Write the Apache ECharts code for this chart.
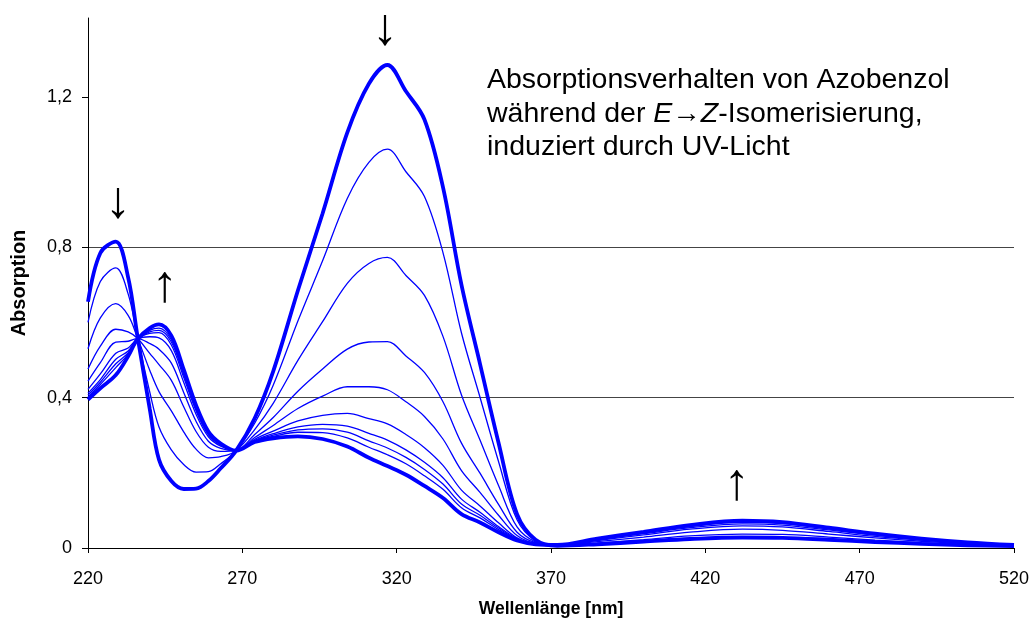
<!DOCTYPE html>
<html><head><meta charset="utf-8">
<script src="https://cdn.jsdelivr.net/npm/echarts@6/dist/echarts.min.js"></script>
<style>html,body{margin:0;padding:0;background:#fff}#c{width:1035px;height:626px}</style>
</head><body><div id="c"></div>
<script>
// Wavelength samples (nm)
const wavelengths = [220,224,229,233,236,240,243,247,251,255,259,263,268,274,280,288,296,304,311,317,323,329,335,341,347,353,359,365,372,385,400,415,432,445,460,475,490,505,520];
// Start spectrum (E-isomer, thick)
const spectrumStart = [0.655,0.785,0.815,0.72,0.565,0.37,0.235,0.178,0.157,0.158,0.178,0.212,0.259,0.345,0.47,0.685,0.89,1.105,1.235,1.285,1.215,1.14,0.96,0.70,0.49,0.28,0.09,0.022,0.006,0.01,0.017,0.024,0.028,0.027,0.022,0.016,0.011,0.007,0.005];
// Intermediate spectra during irradiation
const spectrum1 = [0.60,0.709,0.745,0.676,0.563,0.415,0.322,0.261,0.222,0.202,0.203,0.224,0.259,0.332,0.433,0.604,0.764,0.93,1.026,1.061,1.001,0.935,0.786,0.572,0.401,0.23,0.075,0.019,0.006,0.013,0.022,0.032,0.037,0.036,0.029,0.021,0.014,0.009,0.006];
const spectrum2 = [0.53,0.612,0.65,0.619,0.56,0.473,0.416,0.365,0.309,0.263,0.24,0.243,0.259,0.315,0.385,0.499,0.602,0.704,0.757,0.773,0.725,0.672,0.563,0.407,0.287,0.166,0.056,0.016,0.007,0.017,0.029,0.042,0.05,0.047,0.037,0.027,0.018,0.011,0.006];
const spectrum3 = [0.476,0.537,0.582,0.575,0.558,0.518,0.488,0.446,0.376,0.31,0.268,0.257,0.259,0.302,0.347,0.417,0.476,0.529,0.548,0.549,0.511,0.467,0.389,0.279,0.199,0.116,0.042,0.014,0.008,0.02,0.035,0.05,0.059,0.056,0.044,0.031,0.021,0.013,0.007];
const spectrum4 = [0.444,0.493,0.548,0.55,0.557,0.544,0.529,0.492,0.414,0.337,0.284,0.265,0.259,0.294,0.326,0.371,0.404,0.429,0.429,0.421,0.389,0.35,0.29,0.206,0.148,0.087,0.033,0.012,0.008,0.022,0.038,0.054,0.064,0.061,0.048,0.034,0.022,0.014,0.007];
const spectrum5 = [0.422,0.463,0.518,0.532,0.556,0.562,0.559,0.525,0.441,0.356,0.296,0.271,0.259,0.289,0.311,0.338,0.353,0.358,0.344,0.33,0.302,0.267,0.22,0.154,0.112,0.067,0.027,0.011,0.008,0.023,0.04,0.057,0.068,0.065,0.051,0.036,0.024,0.014,0.008];
const spectrum6 = [0.412,0.448,0.502,0.524,0.556,0.571,0.573,0.54,0.454,0.365,0.301,0.274,0.259,0.286,0.304,0.322,0.329,0.324,0.305,0.287,0.261,0.228,0.187,0.13,0.095,0.057,0.025,0.011,0.008,0.024,0.041,0.059,0.07,0.066,0.052,0.037,0.024,0.014,0.008];
const spectrum7 = [0.407,0.441,0.49,0.519,0.555,0.575,0.579,0.548,0.461,0.37,0.304,0.275,0.259,0.285,0.30,0.314,0.317,0.308,0.285,0.266,0.241,0.209,0.17,0.117,0.087,0.053,0.023,0.011,0.008,0.024,0.042,0.059,0.071,0.067,0.053,0.037,0.024,0.015,0.008];
const spectrum8 = [0.402,0.435,0.48,0.516,0.555,0.579,0.585,0.554,0.466,0.374,0.306,0.276,0.259,0.284,0.297,0.308,0.307,0.293,0.268,0.248,0.224,0.192,0.156,0.107,0.08,0.049,0.022,0.01,0.008,0.025,0.042,0.06,0.072,0.068,0.053,0.037,0.025,0.015,0.008];
// Final spectrum (photostationary, Z-rich, thick)
const spectrumEnd = [0.395,0.425,0.46,0.51,0.555,0.585,0.595,0.565,0.475,0.38,0.31,0.278,0.259,0.282,0.292,0.297,0.29,0.27,0.24,0.218,0.195,0.165,0.133,0.09,0.068,0.042,0.02,0.01,0.008,0.025,0.043,0.061,0.073,0.069,0.054,0.038,0.025,0.015,0.008];

const thinSpectra = [spectrum1, spectrum2, spectrum3, spectrum4, spectrum5, spectrum6, spectrum7, spectrum8];
const xTicks = [220,270,320,370,420,470,520];
const yTicks = [0,0.4,0.8,1.2];
const titleLines = ['Absorptionsverhalten von Azobenzol', 'während der ', '-Isomerisierung,', 'induziert durch UV-Licht'];
const arrows = [
  {ch:'↓', at:[316.2, 1.378]},
  {ch:'↓', at:[229.7, 0.918]},
  {ch:'↑', at:[244.9, 0.694]},
  {ch:'↑', at:[430.2, 0.168]}
];

const FONT = '"Liberation Sans", Arial, sans-serif';
const BLUE = '#0000ff';
const toData = arr => wavelengths.map((w, i) => [w, arr[i]]);

const series = thinSpectra.map((s, k) => ({
  type:'line', name:'s'+(k+1), data: toData(s), smooth:0.35, showSymbol:false, symbol:'none',
  lineStyle:{color:BLUE, width:1.3}, z:2, silent:true
}));
series.push({type:'line', name:'E', data: toData(spectrumStart), smooth:0.35, symbol:'none', lineStyle:{color:BLUE, width:3.8}, z:3, silent:true});
series.push({type:'line', name:'Z', data: toData(spectrumEnd), smooth:0.35, symbol:'none', lineStyle:{color:BLUE, width:3.8}, z:3, silent:true});

const chart = echarts.init(document.getElementById('c'), null, {renderer:'canvas'});
chart.setOption({
  animation:false,
  backgroundColor:'#fff',
  textStyle:{fontFamily:FONT},
  grid:{left:88, right:21, top:18, bottom:78, containLabel:false},
  xAxis:{
    type:'value', min:220, max:520,
    axisLine:{show:true, onZero:false, lineStyle:{color:'#000', width:1}},
    axisTick:{show:true, customValues:xTicks, length:5, lineStyle:{color:'#000'}},
    axisLabel:{customValues:xTicks, margin:22, fontSize:18, color:'#000', fontFamily:FONT},
    splitLine:{show:false},
    name:'Wellenlänge [nm]', nameLocation:'middle', nameGap:52,
    nameTextStyle:{fontWeight:'bold', fontSize:17.5, color:'#000', fontFamily:FONT}
  },
  yAxis:{
    type:'value', min:0, max:1.41, interval:0.4,
    axisLine:{show:true, lineStyle:{color:'#000', width:1}},
    axisTick:{show:true, customValues:yTicks, length:6, lineStyle:{color:'#000'}},
    axisLabel:{customValues:yTicks, margin:16, fontSize:18, color:'#000', fontFamily:FONT,
      formatter: v => String(v).replace('.', ',')},
    splitLine:{show:true, showMinLine:false, showMaxLine:false, lineStyle:{color:'#444', width:1}},
    name:'Absorption', nameLocation:'middle', nameGap:59,
    nameTextStyle:{fontWeight:'bold', fontSize:20, color:'#000', fontFamily:FONT}
  },
  series: series
});

const px = p => chart.convertToPixel({gridIndex:0}, p);
const graphics = arrows.map(a => {
  const p = px(a.at);
  return {type:'text', x:p[0], y:p[1], z:10, silent:true,
    style:{text:a.ch, fontSize:52, fontFamily:FONT, fill:'#000', align:'center', verticalAlign:'middle'}};
});
const TX = 487, TFS = 28.5;
graphics.push({type:'text', x:TX, y:80, z:10, style:{text:titleLines[0], fontSize:TFS, fontFamily:FONT, fill:'#000', align:'left', verticalAlign:'middle'}});
graphics.push({type:'text', x:TX, y:114, z:10, style:{
  text: titleLines[1] + '{i|E}→{i|Z}' + titleLines[2],
  fontSize:TFS, fontFamily:FONT, fill:'#000', align:'left', verticalAlign:'middle',
  rich:{i:{fontStyle:'italic', fontSize:TFS, fontFamily:FONT, fill:'#000'}}
}});
graphics.push({type:'text', x:TX, y:147, z:10, style:{text:titleLines[3], fontSize:TFS, fontFamily:FONT, fill:'#000', align:'left', verticalAlign:'middle'}});
chart.setOption({graphic:graphics});
</script></body></html>
